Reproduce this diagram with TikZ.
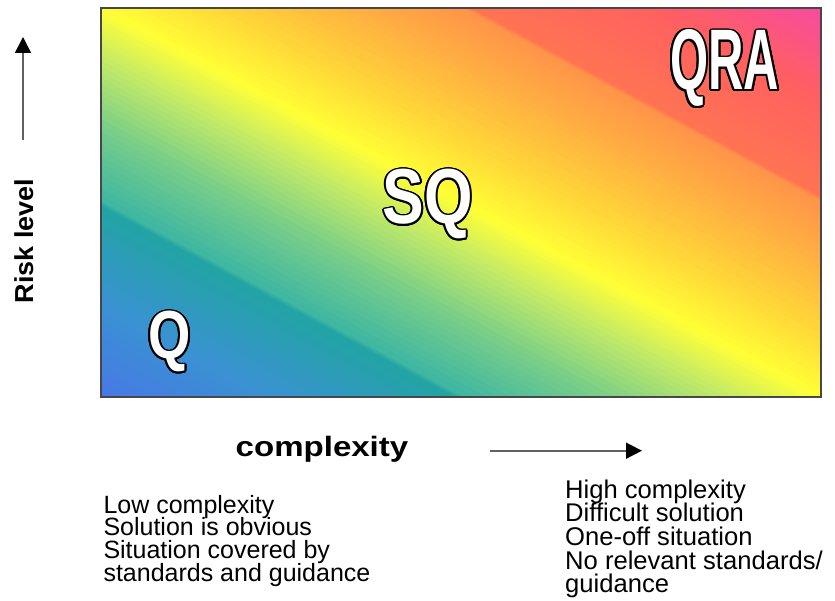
\documentclass[tikz,border=0pt]{standalone}
\usepackage{fontspec}
\setmainfont{Liberation Sans}
\newfontfamily\qrafont[FakeStretch=0.57]{Liberation Sans Bold}
\newfontfamily\sqfont[FakeStretch=0.8]{Liberation Sans Bold}
\usetikzlibrary{arrows.meta}
\setlength{\lineskiplimit}{-30pt}
\definecolor{g0}{HTML}{4878E6}
\definecolor{g1}{HTML}{3A92D2}
\definecolor{g2}{HTML}{22A4A4}
\definecolor{g3}{HTML}{3DB6A2}
\definecolor{g4}{HTML}{7ACE88}
\definecolor{g5}{HTML}{C8EC64}
\definecolor{g6}{HTML}{FFFF36}
\definecolor{g7}{HTML}{FFD838}
\definecolor{g8}{HTML}{FFAE42}
\definecolor{g9}{HTML}{FF944A}
\definecolor{g10}{HTML}{FF7452}
\definecolor{g11}{HTML}{FF6060}
\definecolor{g12}{HTML}{F84AA0}
\newcommand\bigoutline[3]{%
  \foreach \a [count=\k] in {0,22.5,...,337.5}{%
    \node[bigletters, text=black, xshift={1.8pt*cos(\a)}, yshift={1.8pt*sin(\a)}] (#1o\k) at #2 {#3};}%
  \node[bigletters, text=white] (#1) at #2 {#3};}
\tikzset{
  bigletters/.style={inner sep=0pt, anchor=base west},
  axisarrow/.style={draw=black!62, line width=1.6pt, -{Triangle[length=16pt,width=16pt,color=black]}},
  blocktext/.style={inner sep=0pt, anchor=north west, align=left},
}
\begin{document}
\begin{tikzpicture}[x=1pt,y=-1pt]
\useasboundingbox[fill=white] (0,0) rectangle (835,601);
% gradient panel
\begin{scope}
\clip (101,8) rectangle (821,397);
\foreach \ta/\tb/\ca/\cb in {0/0.12/g0/g1, 0.12/0.245/g1/g2, 0.245/0.252/g2/g3, 0.252/0.35/g3/g4, 0.35/0.44/g4/g5, 0.44/0.5/g5/g6, 0.5/0.58/g6/g7, 0.58/0.68/g7/g8, 0.68/0.752/g8/g9, 0.752/0.758/g9/g10, 0.758/0.88/g10/g11, 0.88/1.0/g11/g12}{
  \foreach \j in {0,...,11}{
    \pgfmathsetmacro\cA{2*(\ta+(\tb-\ta)*\j/12)}
    \pgfmathsetmacro\cB{2*(\ta+(\tb-\ta)*(\j+1)/12)+0.006}
    \pgfmathsetmacro\p{100*(\j+0.5)/12}
    \fill[fill=\cb!\p!\ca] (101+\cA*720,397) -- (101+\cB*720,397) -- (101,397-\cB*389) -- (101,397-\cA*389) -- cycle;
  }
}
\end{scope}
\draw[draw=black!72, line width=1.6pt] (101,8) rectangle (821,397);
% big labels
\bigoutline{qra}{(670,90)}{\fontsize{86}{90}\qrafont QRA}
\bigoutline{sq}{(382.5,224)}{\fontsize{78}{80}\sqfont SQ}
\bigoutline{q}{(148.4,359)}{\fontsize{68}{70}\sqfont Q}
% axes
\node[inner sep=0pt, anchor=base, rotate=90, font=\fontsize{26}{30}\selectfont\bfseries] (risk) at (33,241) {\scalebox{1.04}[1]{Risk level}};
\coordinate (ua) at (23,140);
\coordinate (ub) at (23,37);
\draw[axisarrow] (ua) -- (ub);
\node[inner sep=0pt, anchor=base west, font=\fontsize{28}{32}\selectfont\bfseries] (cx) at (235.5,456.7) {\scalebox{1.18}[1]{complexity}};
\coordinate (ra) at (490,450.7);
\coordinate (rb) at (642,450.7);
\draw[axisarrow] (ra) -- (rb);
% text blocks
\node[blocktext, font=\fontsize{25}{22.6}\selectfont] (low) at (103.3,495) {Low complexity\\Solution is obvious\\Situation covered by\\standards and guidance};
\node[blocktext, font=\fontsize{25.6}{23.6}\selectfont] (high) at (565,479.5) {High complexity\\Difficult solution\\One-off situation\\No relevant standards/\\guidance};
\end{tikzpicture}
\end{document}
